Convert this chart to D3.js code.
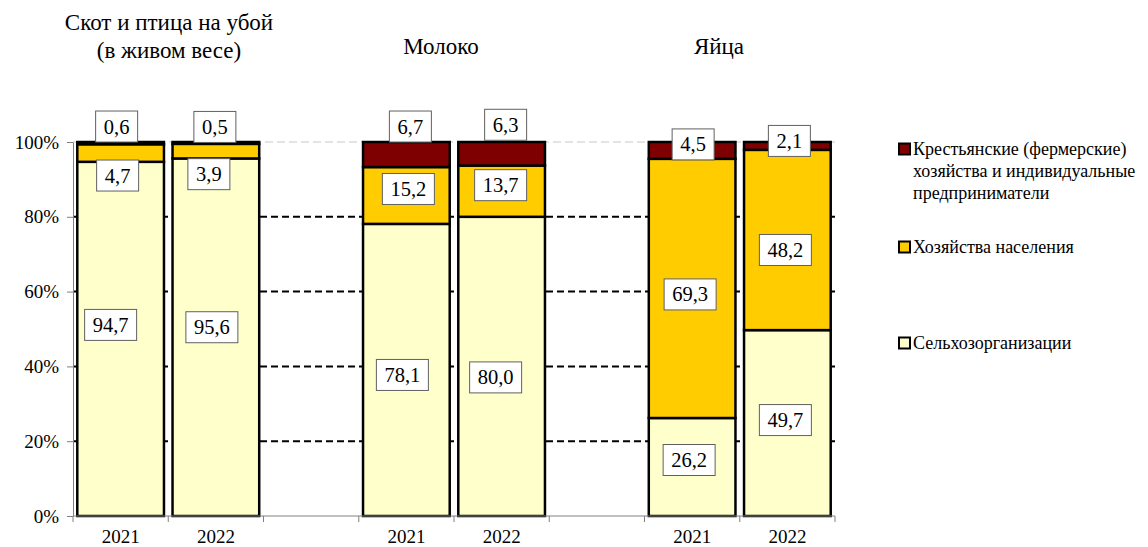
<!DOCTYPE html>
<html><head><meta charset="utf-8"><script src="https://cdn.jsdelivr.net/npm/d3@7"></script></head>
<body style="margin:0">
<svg id="s" width="1148" height="547"></svg>
<script>
// ---------- DATA ----------
const groupTitles = [["Скот и птица на убой", "(в живом весе)"], ["Молоко"], ["Яйца"]];
const years = ["2021", "2022"];
const seriesNames = [
  "Сельхозорганизации",
  "Хозяйства населения",
  "Крестьянские (фермерские) хозяйства и индивидуальные предприниматели"
];
// order of bars: Скот 2021, Скот 2022, Молоко 2021, Молоко 2022, Яйца 2021, Яйца 2022
const selhozorg = [94.7, 95.6, 78.1, 80.0, 26.2, 49.7];
const naselenie = [4.7, 3.9, 15.2, 13.7, 69.3, 48.2];
const kfh       = [0.6, 0.5, 6.7, 6.3, 4.5, 2.1];
const yTicks = [0, 20, 40, 60, 80, 100];

// ---------- LAYOUT / STYLE ----------
const serifNames = [["Liberation", "Serif"], ["Tinos"], ["Nimbus", "Roman"], ["FreeSerif"]];
const FONT = serifNames.map(p => `'${p.join(" ")}'`).join(", ");
const colors = ["#FFFFCC", "#FFCC00", "#7F0000"];
const labelNudge = [
  [[-10, -14], [-4, -10], [-4, 5], [-6, 11], [-3, -7], [-2, -3]],
  [[-3, 22.5], [-7, 23], [2, -6.5], [-1, -6], [-2, 6], [-2, 10]],
  [[-4, -16.6], [-1, -16], [4, -28], [4, -29], [1, -6], [2, -5]]
];
const titlePos = [[169, 22, 50], [441, 46], [719, 46]];

const svg = d3.select("#s");
const txt = (sel, size) => sel.style("font-family", FONT).attr("font-size", size).attr("fill", "#000");

const nSlots = groupTitles.length * 3 - 1;
const x = d3.scaleBand().domain(d3.range(nSlots)).range([73, 835])
  .paddingInner(0.09).paddingOuter(0.045);
const y = d3.scaleLinear().domain([0, 100]).range([516, 142]);

const series = [selhozorg, naselenie, kfh];
const bars = selhozorg.map((_, i) => {
  const g = Math.floor(i / 2), yr = i % 2;
  let acc = 0;
  const segs = series.map((s, k) => {
    const lo = acc; acc += s[i];
    return { k, lo, hi: acc, v: s[i] };
  });
  return { i, slot: g * 3 + yr, year: years[yr], segs };
});

// ---------- GRIDLINES ----------
svg.append("g").selectAll("line").data(yTicks.filter(t => t > 0)).join("line")
  .attr("x1", x.range()[0]).attr("x2", x.range()[1])
  .attr("y1", d => y(d)).attr("y2", d => y(d))
  .attr("stroke", d => d === 100 ? "#c8c8c8" : "#000")
  .attr("stroke-width", d => d === 100 ? 1 : 2)
  .attr("stroke-dasharray", d => d === 100 ? "8,4" : "7,4");

// ---------- BARS ----------
svg.append("g").selectAll("g").data(bars).join("g")
  .selectAll("rect").data(d => d.segs.map(s => ({ ...s, slot: d.slot }))).join("rect")
  .attr("x", d => x(d.slot))
  .attr("width", x.bandwidth())
  .attr("y", d => y(d.hi))
  .attr("height", d => y(d.lo) - y(d.hi))
  .attr("fill", d => colors[d.k])
  .attr("stroke", "#000")
  .attr("stroke-width", 2.5);

// ---------- AXES ----------
const yAxis = svg.append("g").attr("transform", `translate(${x.range()[0]},0)`)
  .call(d3.axisLeft(y).tickValues(yTicks).tickFormat(d => d + "%").tickSize(6).tickSizeOuter(0));
yAxis.attr("font-family", null).attr("font-size", null);
yAxis.select(".domain").attr("stroke", "#808080");
yAxis.selectAll(".tick line").attr("stroke", "#808080");
txt(yAxis.selectAll(".tick text"), 19).attr("x", -14);

const xb = svg.append("g");
xb.append("line").attr("x1", x.range()[0]).attr("x2", x.range()[1])
  .attr("y1", y(0)).attr("y2", y(0)).attr("stroke", "#808080");
xb.selectAll("line.t").data(d3.range(nSlots + 1)).join("line").attr("class", "t")
  .attr("x1", d => x.range()[0] + d * x.step()).attr("x2", d => x.range()[0] + d * x.step())
  .attr("y1", y(0)).attr("y2", y(0) + 6).attr("stroke", "#808080");
txt(xb.selectAll("text").data(bars).join("text"), 19)
  .attr("x", d => x(d.slot) + x.bandwidth() / 2).attr("y", 543)
  .attr("text-anchor", "middle").text(d => d.year);

// ---------- VALUE LABELS ----------
const fmt = v => d3.format(".1f")(v).replace(".", ",");
const labels = [];
bars.forEach(b => b.segs.forEach(s => {
  const [dx, dy] = labelNudge[s.k][b.i];
  labels.push({
    cx: x(b.slot) + x.bandwidth() / 2 + dx,
    cy: y((s.lo + s.hi) / 2) + dy,
    t: fmt(s.v)
  });
}));
const lab = svg.append("g").selectAll("g").data(labels).join("g");
lab.append("rect").attr("fill", "#fff").attr("stroke", "#606060").attr("stroke-width", 1)
  .attr("x", d => d.cx - (d.t.length * 10 + 12) / 2)
  .attr("width", d => d.t.length * 10 + 12)
  .attr("y", d => d.cy - 15.5).attr("height", 31);
txt(lab.append("text"), 20.5).attr("x", d => d.cx).attr("y", d => d.cy + 7)
  .attr("text-anchor", "middle").text(d => d.t);

// ---------- GROUP TITLES ----------
groupTitles.forEach((lines, gi) => {
  const p = titlePos[gi];
  lines.forEach((ln, li) => {
    txt(svg.append("text"), 23).attr("x", p[0]).attr("y", p[1 + li] + 8)
      .attr("text-anchor", "middle").text(ln);
  });
});

// ---------- LEGEND ----------
const legendItems = [
  { k: 2, lines: ["Крестьянские (фермерские)", "хозяйства и индивидуальные", "предприниматели"], y: 149 },
  { k: 1, lines: ["Хозяйства населения"], y: 247 },
  { k: 0, lines: ["Сельхозорганизации"], y: 343 }
];
const lg = svg.append("g");
legendItems.forEach(it => {
  lg.append("rect").attr("x", 899).attr("y", it.y - 5.5).attr("width", 11).attr("height", 11)
    .attr("fill", colors[it.k]).attr("stroke", "#000").attr("stroke-width", 2);
  it.lines.forEach((ln, li) => {
    txt(lg.append("text"), 18).attr("x", 913).attr("y", it.y + li * 22 + 6).text(ln);
  });
});
</script></body></html>
